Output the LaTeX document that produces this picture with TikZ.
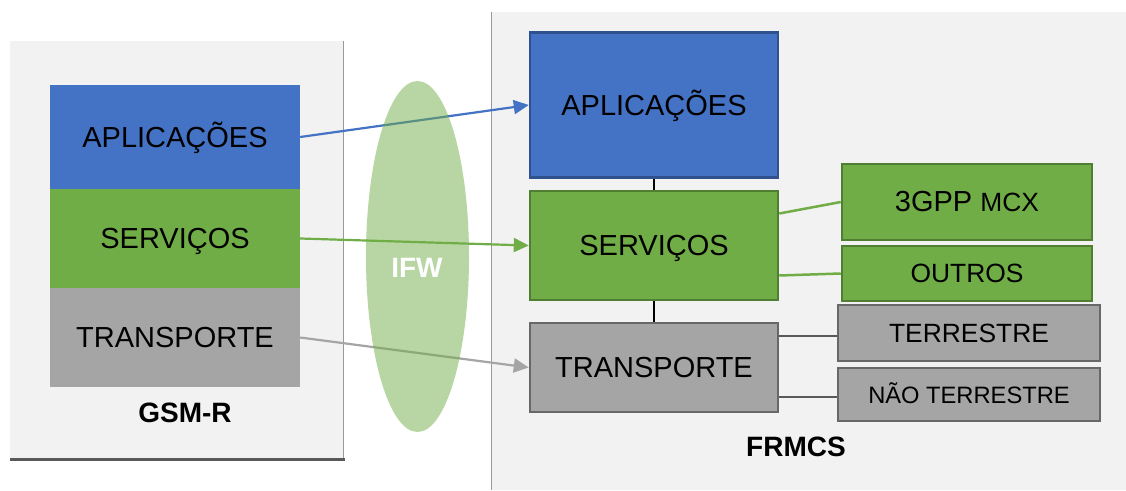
\documentclass[tikz,border=0pt]{standalone}
\usepackage{fontspec}
\setmainfont{Liberation Sans}
\usetikzlibrary{arrows.meta, shapes.geometric}

\definecolor{appblue}{HTML}{4472C4}
\definecolor{appborder}{HTML}{2F528F}
\definecolor{servgreen}{HTML}{70AD47}
\definecolor{servborder}{HTML}{507E32}
\definecolor{transgray}{HTML}{A5A5A5}
\definecolor{transborder}{HTML}{686868}
\definecolor{panelgray}{HTML}{F2F2F2}

\tikzset{
  layer/.style={rectangle, inner sep=0pt, text height=20.8pt, text depth=0pt, font=\fontsize{29}{34}\selectfont},
  sublayer/.style={rectangle, draw, line width=2.5pt, inner sep=0pt, text height=18.8pt, text depth=0pt, font=\fontsize{26.4}{30}\selectfont},
  link/.style={line width=2.2pt, -{Triangle[length=15pt,width=14pt]}},
  title/.style={font=\bfseries\fontsize{28}{32}\selectfont}
}

\begin{document}
\begin{tikzpicture}[x=1pt, y=-1pt]
\useasboundingbox (0,0) rectangle (1126,490);
%panels
\fill[panelgray] (10,41) rectangle (343,459);
\draw[gray!80] (343,41) -- (343,459);
\draw[line width=3pt, black!65] (10,459) -- (344.5,459);
\fill[panelgray] (491,12) rectangle (1126,490);
\draw[gray!80] (491,12) -- (491,490);
%GSM-R stack
\node[layer, fill=appblue, minimum width=250, minimum height=104] (gapp) at (175,137) {APLICAÇÕES};
\node[layer, fill=servgreen, minimum width=250, minimum height=99] (gserv) at (175,238.5) {SERVIÇOS};
\node[layer, fill=transgray, minimum width=250, minimum height=99] (gtrans) at (175,337.5) {TRANSPORTE};
\node[title] (gsmr) at (185,413) {GSM-R};
%FRMCS stack
\node[layer, draw=appborder, line width=2.5pt, fill=appblue, minimum width=248, minimum height=145] (app) at (654,105) {APLICAÇÕES};
\node[layer, draw=servborder, line width=2.5pt, fill=servgreen, minimum width=248, minimum height=109] (serv) at (654,245.5) {SERVIÇOS};
\node[layer, draw=transborder, line width=2.5pt, fill=transgray, minimum width=248, minimum height=89] (trans) at (654,367.5) {TRANSPORTE};
\node[title] (frmcs) at (796,447) {FRMCS};
\draw[line width=2.2pt] (app) -- (serv);
\draw[line width=2.2pt] (serv) -- (trans);
%sub layers
\node[sublayer, draw=servborder, fill=servgreen, minimum width=250, minimum height=76, font=\fontsize{29}{34}\selectfont] (mcx) at (967,202) {3GPP {\fontsize{26.4}{30}\selectfont MCX}};
\node[sublayer, draw=servborder, fill=servgreen, minimum width=250, minimum height=55] (outros) at (967,273.5) {OUTROS};
\node[sublayer, draw=transborder, fill=transgray, minimum width=262, minimum height=56] (terr) at (969,333) {TERRESTRE};
\node[sublayer, draw=transborder, fill=transgray, minimum width=262, minimum height=53, font=\fontsize{23.7}{28}\selectfont] (nao) at (969,394.5) {NÃO TERRESTRE};
\draw[servgreen, line width=2.5pt] ([yshift=32pt]serv.east) -- (mcx.west);
\draw[servgreen, line width=2.5pt] ([yshift=-30pt]serv.east) -- (outros.west);
\draw[black!65, line width=2.5pt] ([yshift=31.5pt]trans.east) -- ([yshift=31.5pt]trans.east -| terr.west);
\draw[black!65, line width=2.5pt] ([yshift=-29.5pt]trans.east) -- ([yshift=-29.5pt]trans.east -| nao.west);
%interworking
\draw[link, appblue] (gapp.east) -- (app.west);
\draw[link, servgreen] (gserv.east) -- (serv.west);
\draw[link, transgray] (gtrans.east) -- (trans.west);
\node[ellipse, fill=servgreen, fill opacity=0.5, minimum width=103, minimum height=351, inner sep=0pt] (ifw) at (417.5,256.5) {};
\node[title, text=white] (ifwlabel) at (417,268) {IFW};
\end{tikzpicture}
\end{document}
